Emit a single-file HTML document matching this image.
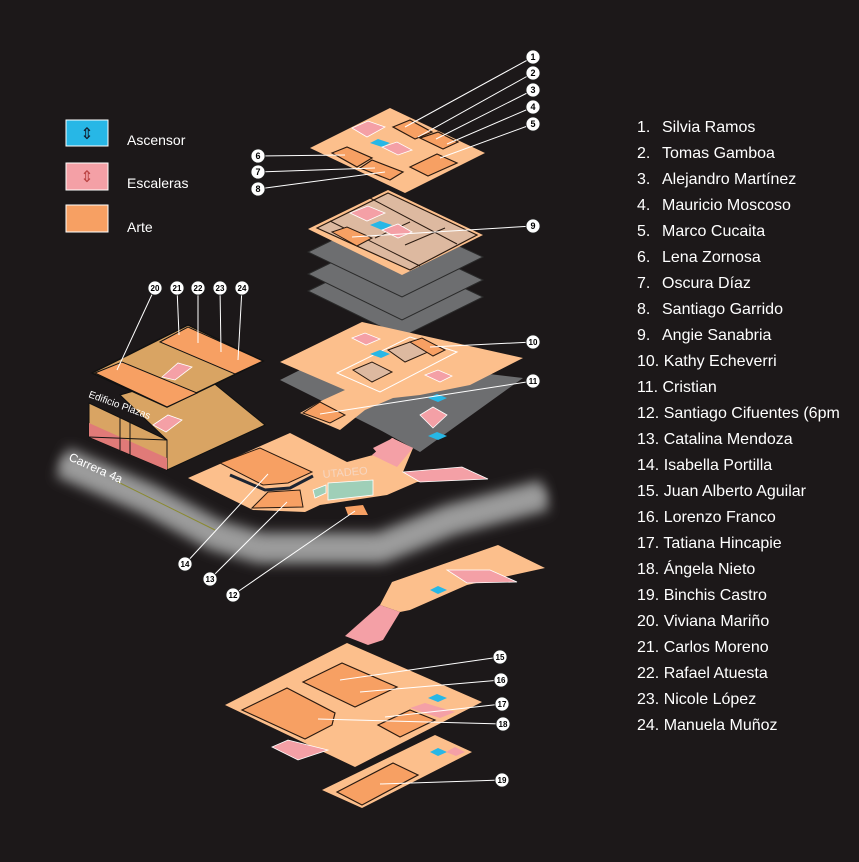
<!DOCTYPE html>
<html><head><meta charset="utf-8"><style>
html,body{margin:0;padding:0;background:#1c1819;}
svg{display:block}
text{font-family:"Liberation Sans",sans-serif;}
</style></head><body>
<svg width="859" height="862" viewBox="0 0 859 862" xmlns="http://www.w3.org/2000/svg">
<defs>
<filter id="blur" x="-20%" y="-100%" width="140%" height="300%" filterUnits="objectBoundingBox"><feGaussianBlur stdDeviation="6"/></filter>
</defs>
<rect width="859" height="862" fill="#1c1819"/>

<!-- legend -->
<rect x="66" y="120" width="42" height="26" fill="#27b7e6" stroke="#fff" stroke-width="1"/>
<text x="87" y="139" font-size="16" fill="#123" text-anchor="middle">⇕</text>
<rect x="66" y="163" width="42" height="27" fill="#f4a0a6" stroke="#fff" stroke-width="1"/>
<text x="87" y="182" font-size="16" fill="#b44" text-anchor="middle">⇕</text>
<rect x="66" y="205" width="42" height="27" fill="#f7a063" stroke="#fff" stroke-width="1"/>
<g font-size="14" fill="#fff">
<text x="127" y="145">Ascensor</text>
<text x="127" y="188">Escaleras</text>
<text x="127" y="232">Arte</text>
</g>

<!-- list -->
<g font-size="16" fill="#fff">
<text x="637" y="132">1.</text><text x="662" y="132">Silvia Ramos</text>
<text x="637" y="158">2.</text><text x="662" y="158">Tomas Gamboa</text>
<text x="637" y="184">3.</text><text x="662" y="184">Alejandro Martínez</text>
<text x="637" y="210">4.</text><text x="662" y="210">Mauricio Moscoso</text>
<text x="637" y="236">5.</text><text x="662" y="236">Marco Cucaita</text>
<text x="637" y="262">6.</text><text x="662" y="262">Lena Zornosa</text>
<text x="637" y="288">7.</text><text x="662" y="288">Oscura Díaz</text>
<text x="637" y="314">8.</text><text x="662" y="314">Santiago Garrido</text>
<text x="637" y="340">9.</text><text x="662" y="340">Angie Sanabria</text>
<text x="637" y="366">10. Kathy Echeverri</text>
<text x="637" y="392">11. Cristian</text>
<text x="637" y="418">12. Santiago Cifuentes  (6pm</text>
<text x="637" y="444">13. Catalina Mendoza</text>
<text x="637" y="470">14. Isabella Portilla</text>
<text x="637" y="496">15. Juan Alberto Aguilar</text>
<text x="637" y="522">16. Lorenzo Franco</text>
<text x="637" y="548">17. Tatiana Hincapie</text>
<text x="637" y="574">18. Ángela Nieto</text>
<text x="637" y="600">19. Binchis Castro</text>
<text x="637" y="626">20. Viviana Mariño</text>
<text x="637" y="652">21. Carlos Moreno</text>
<text x="637" y="678">22. Rafael Atuesta</text>
<text x="637" y="704">23. Nicole López</text>
<text x="637" y="730">24. Manuela Muñoz</text>
</g>

<!-- road -->
<path d="M62,462 L150,500 L215,535 L260,548 L380,548 L450,520 L545,495" fill="none" stroke="#8c8c8c" stroke-width="32" stroke-linejoin="round" filter="url(#blur)"/>
<path d="M62,462 L150,500 L215,535 L260,548 L380,548 L450,520 L545,495" fill="none" stroke="#a5a5a5" stroke-width="10" stroke-linejoin="round" filter="url(#blur)"/>
<line x1="118" y1="482" x2="215" y2="530" stroke="#8a8a30" stroke-width="1"/>
<text x="68" y="460" font-size="12" fill="#fff" transform="rotate(24 68 460)">Carrera 4a</text>

<!-- Top floor -->
<polygon points="310,148 390,108 485,153 405,193" fill="#fcbf8c"/>
<g fill="#f7a063" stroke="#2a1a10" stroke-width="1.2">
<polygon points="332,153 347,147 372,158 357,167"/>
<polygon points="360,168 372,160 403,172 390,180"/>
<polygon points="410,167 437,154 457,163 428,176"/>
<polygon points="393,127 410,120 432,132 415,139"/>
<polygon points="420,138 438,132 458,142 443,149"/>
</g>
<polygon points="352,128 368,121 385,127 367,137" fill="#f4a0a6" stroke="#fff" stroke-width="0.8"/>
<polygon points="370,143 378,139 390,143 382,147" fill="#27b7e6"/>
<polygon points="382,147 397,142 412,150 398,155" fill="#f4a0a6" stroke="#fff" stroke-width="0.8"/>

<!-- gray layers -->
<g fill="#6d6e70" stroke="#2a2a2a" stroke-width="1">
<polygon points="308,291 388,252 483,297 402,337"/>
<polygon points="308,274 388,235 483,280 402,320"/>
<polygon points="308,252 388,213 483,257 402,297"/>
</g>
<!-- floor 9 -->
<polygon points="308,229 388,190 483,235 402,275" fill="#fcbf8c"/>
<polygon points="317,228 388,193 477,235 410,270" fill="#ddb9a0" stroke="#2a1a10" stroke-width="1.2"/>
<g fill="none" stroke="#2a1a10" stroke-width="1">
<line x1="370" y1="198" x2="457" y2="244"/>
<line x1="330" y1="221" x2="420" y2="266"/>
<line x1="405" y1="245" x2="445" y2="228"/>
<line x1="375" y1="238" x2="410" y2="222"/>
</g>
<polygon points="332,232 347,227 372,238 357,246" fill="#f7a063" stroke="#2a1a10"/>
<polygon points="350,213 368,206 385,213 367,221" fill="#f4a0a6" stroke="#fff" stroke-width="0.8"/>
<polygon points="370,225 380,221 392,225 382,230" fill="#27b7e6"/>
<polygon points="382,230 398,224 412,232 398,238" fill="#f4a0a6" stroke="#fff" stroke-width="0.8"/>

<!-- floor 10/11 -->
<polygon points="280,380 330,355 523,378 420,452 380,430" fill="#6d6e70"/>
<polygon points="280,362 362,322 523,358 470,385 420,395 393,398 365,410 340,430 300,413 323,400 345,390" fill="#fcbf8c"/>
<polygon points="337,373 410,337 457,352 380,392" fill="none" stroke="#fff" stroke-width="1"/>
<polygon points="353,370 372,362 392,372 372,382" fill="#ddb9a0" stroke="#2a1a10"/>
<polygon points="388,350 410,342 428,352 405,362" fill="#ddb9a0" stroke="#2a1a10"/>
<polygon points="410,342 422,338 445,350 433,356" fill="#f7a063" stroke="#2a1a10"/>
<polygon points="303,413 320,402 345,415 330,423" fill="#f7a063" stroke="#2a1a10"/>
<polygon points="352,338 365,333 380,339 366,345" fill="#f4a0a6" stroke="#fff" stroke-width="0.8"/>
<polygon points="370,354 380,350 390,354 381,358" fill="#27b7e6"/>
<polygon points="425,375 438,370 452,376 440,382" fill="#f4a0a6" stroke="#fff" stroke-width="0.8"/>
<polygon points="428,398 437,394 447,398 438,402" fill="#27b7e6"/>
<polygon points="420,415 433,407 447,415 433,428" fill="#f4a0a6" stroke="#fff" stroke-width="0.8"/>
<polygon points="428,436 437,432 447,436 438,440" fill="#27b7e6"/>
<polygon points="373,448 393,438 403,448 385,462" fill="#f4a0a6"/>

<!-- building -->
<polygon points="120,395 200,372 265,425 167,470 167,440" fill="#d9a463" stroke="#111" stroke-width="1"/>
<polygon points="89,403 167,440 167,470 89,437" fill="#d9a463" stroke="#111" stroke-width="1"/>
<polygon points="89,423 167,458 167,470 89,437" fill="#e07a78"/>
<g stroke="#111" fill="none" stroke-width="1"><line x1="120" y1="418" x2="120" y2="450"/><line x1="130" y1="422" x2="130" y2="455"/><line x1="89" y1="437" x2="167" y2="440"/></g>
<polygon points="153,425 168,415 182,420 166,432" fill="#f4a0a6" stroke="#fff" stroke-width="0.8"/>
<text x="88" y="397" font-size="10" fill="#fff" transform="rotate(20 88 397)">Edificio Plazas</text>
<polygon points="92,373 188,325 263,361 167,407" fill="#d9a463" stroke="#111" stroke-width="1.5"/>
<polygon points="95,373 122,362 197,393 167,407" fill="#f7a063" stroke="#111" stroke-width="1"/>
<polygon points="160,342 188,327 263,361 235,374" fill="#f7a063" stroke="#111" stroke-width="1"/>
<polygon points="162,377 178,363 192,367 175,380" fill="#f4a0a6" stroke="#fff" stroke-width="0.8"/>

<!-- ground floor -->
<polygon points="188,478 290,433 347,462 373,455 392,438 413,448 403,472 462,467 488,479 417,482 387,495 320,505 305,512 253,510" fill="#fcbf8c"/>
<polygon points="372,455 392,438 413,448 397,467" fill="#f4a0a6"/>
<polygon points="403,472 462,467 488,479 420,482" fill="#f4a0a6" stroke="#fff" stroke-width="0.8"/>
<polygon points="220,463 260,448 312,472 288,483 263,485" fill="#f7a063" stroke="#2a1a10"/>
<path d="M230,475 L265,490 L290,488 L313,476" fill="none" stroke="#1c2533" stroke-width="3"/>
<polygon points="252,508 268,492 300,490 303,507" fill="#f7a063" stroke="#2a1a10"/>
<polygon points="345,507 363,505 368,515 348,515" fill="#f7a063"/>
<polygon points="328,483 373,480 373,495 328,500" fill="#9fcfb8" stroke="#fff" stroke-width="0.8"/>
<polygon points="313,490 326,485 326,493 315,498" fill="#9fcfb8" stroke="#fff" stroke-width="0.8"/>
<text x="323" y="478" font-size="11" fill="#f6d6c0" transform="rotate(-5 323 478)">UTADEO</text>

<!-- stairs level -->
<polygon points="392,582 498,545 545,568 467,585 410,610 400,612 380,605" fill="#fcbf8c"/>
<polygon points="447,570 490,570 517,582 467,583" fill="#f4a0a6" stroke="#fff" stroke-width="0.8"/>
<polygon points="345,636 380,605 400,612 383,640 368,645" fill="#f4a0a6"/>
<polygon points="430,590 438,586 447,590 438,594" fill="#27b7e6"/>

<!-- floor 15-18 -->
<polygon points="225,705 347,643 482,702 355,767" fill="#fcbf8c"/>
<polygon points="303,682 342,663 397,687 355,707" fill="#f7a063" stroke="#2a1a10" stroke-width="1.2"/>
<polygon points="242,710 287,688 335,713 332,725 305,739" fill="#f7a063" stroke="#2a1a10" stroke-width="1.2"/>
<polygon points="378,725 410,710 435,720 400,737" fill="#f7a063" stroke="#2a1a10" stroke-width="1.2"/>
<polygon points="410,708 425,703 455,712 440,718" fill="#f4a0a6"/>
<polygon points="428,698 437,694 447,698 438,702" fill="#27b7e6"/>
<polygon points="272,747 288,740 328,750 298,760" fill="#f4a0a6" stroke="#fff" stroke-width="0.8"/>
<!-- floor 19 -->
<polygon points="322,790 435,735 472,752 362,808" fill="#fcbf8c"/>
<polygon points="337,792 393,763 418,775 362,805" fill="#f7a063" stroke="#2a1a10" stroke-width="1.2"/>
<polygon points="430,752 438,748 447,752 438,756" fill="#27b7e6"/>
<polygon points="446,752 455,747 465,752 456,756" fill="#f4a0a6"/>

<!-- leaders -->
<g stroke="#fff" stroke-width="1" fill="none">
<line x1="533" y1="57" x2="405" y2="127"/>
<line x1="533" y1="73" x2="418" y2="137"/>
<line x1="533" y1="90" x2="436" y2="139"/>
<line x1="533" y1="107" x2="447" y2="144"/>
<line x1="533" y1="124" x2="440" y2="158"/>
<line x1="258" y1="156" x2="345" y2="155"/>
<line x1="258" y1="172" x2="375" y2="168"/>
<line x1="258" y1="189" x2="385" y2="172"/>
<line x1="533" y1="226" x2="352" y2="237"/>
<line x1="533" y1="342" x2="430" y2="347"/>
<line x1="533" y1="381" x2="320" y2="414"/>
<line x1="233" y1="595" x2="355" y2="511"/>
<line x1="210" y1="579" x2="287" y2="502"/>
<line x1="185" y1="564" x2="268" y2="474"/>
<line x1="500" y1="657" x2="340" y2="680"/>
<line x1="501" y1="680" x2="360" y2="692"/>
<line x1="502" y1="704" x2="385" y2="717"/>
<line x1="503" y1="724" x2="318" y2="719"/>
<line x1="502" y1="780" x2="380" y2="784"/>
<line x1="155" y1="288" x2="117" y2="370"/>
<line x1="177" y1="288" x2="179" y2="335"/>
<line x1="198" y1="288" x2="198" y2="343"/>
<line x1="220" y1="288" x2="221" y2="352"/>
<line x1="242" y1="288" x2="238" y2="360"/>
</g>
<g fill="#fff" stroke="#222" stroke-width="0.8">
<circle cx="533" cy="57" r="7"/><circle cx="533" cy="73" r="7"/><circle cx="533" cy="90" r="7"/><circle cx="533" cy="107" r="7"/><circle cx="533" cy="124" r="7"/>
<circle cx="258" cy="156" r="7"/><circle cx="258" cy="172" r="7"/><circle cx="258" cy="189" r="7"/>
<circle cx="533" cy="226" r="7"/><circle cx="533" cy="342" r="7"/><circle cx="533" cy="381" r="7"/>
<circle cx="233" cy="595" r="7"/><circle cx="210" cy="579" r="7"/><circle cx="185" cy="564" r="7"/>
<circle cx="500" cy="657" r="7"/><circle cx="501" cy="680" r="7"/><circle cx="502" cy="704" r="7"/><circle cx="503" cy="724" r="7"/><circle cx="502" cy="780" r="7"/>
<circle cx="155" cy="288" r="7"/><circle cx="177" cy="288" r="7"/><circle cx="198" cy="288" r="7"/><circle cx="220" cy="288" r="7"/><circle cx="242" cy="288" r="7"/>
</g>
<g font-size="9" fill="#000" text-anchor="middle" font-weight="bold">
<text x="533" y="60">1</text><text x="533" y="76">2</text><text x="533" y="93">3</text><text x="533" y="110">4</text><text x="533" y="127">5</text>
<text x="258" y="159">6</text><text x="258" y="175">7</text><text x="258" y="192">8</text>
<text x="533" y="229">9</text><text x="533" y="345" font-size="8">10</text><text x="533" y="384" font-size="8">11</text>
<text x="233" y="598" font-size="8">12</text><text x="210" y="582" font-size="8">13</text><text x="185" y="567" font-size="8">14</text>
<text x="500" y="660" font-size="8">15</text><text x="501" y="683" font-size="8">16</text><text x="502" y="707" font-size="8">17</text><text x="503" y="727" font-size="8">18</text><text x="502" y="783" font-size="8">19</text>
<text x="155" y="291" font-size="8">20</text><text x="177" y="291" font-size="8">21</text><text x="198" y="291" font-size="8">22</text><text x="220" y="291" font-size="8">23</text><text x="242" y="291" font-size="8">24</text>
</g>
</svg>
</body></html>
